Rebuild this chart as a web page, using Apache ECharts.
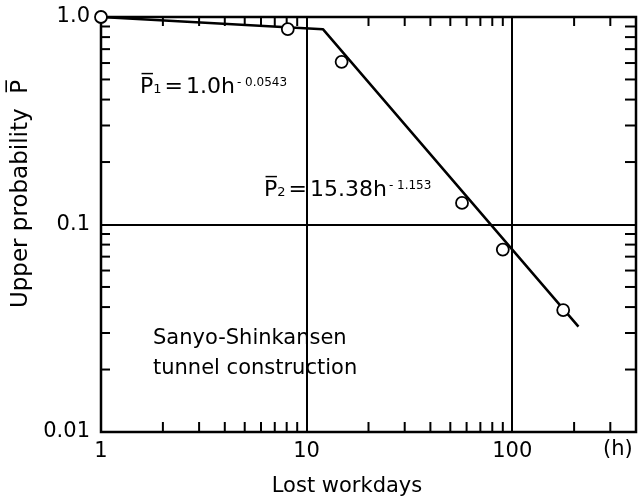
<!DOCTYPE html>
<html>
<head>
<meta charset="utf-8">
<script src="https://cdn.jsdelivr.net/npm/echarts@6/dist/echarts.min.js"></script>
<style>html,body{margin:0;padding:0;background:#fff;}#c{width:639px;height:500px;}</style>
</head>
<body>
<div id="c"></div>
<script>
// ---- data ----
const observedH = [1, 8.1, 14.8, 57, 90, 177];
const observedP = [1.0, 0.875, 0.608, 0.127, 0.0757, 0.0387];
const fitH = [1, 12.0, 210];
const fitP = [1.0, 0.874, 0.0322];
const xTickValues = [1, 10, 100];
const xTickLabels = ['1', '10', '100'];
const yTickValues = [0.01, 0.1, 1];
const yTickLabels = ['0.01', '0.1', '1.0'];
const xMinorTicks = [2, 3, 4, 5, 6, 7, 8, 9, 20, 30, 40, 50, 60, 70, 80, 90, 200, 300];
const yMinorTicks = [0.02, 0.03, 0.04, 0.05, 0.06, 0.07, 0.08, 0.09, 0.2, 0.3, 0.4, 0.5, 0.6, 0.7, 0.8, 0.9];
const xRange = [1, 400];
const yRange = [0.01, 1];

const FONT = 'DejaVu Sans';
const INK = '#000';

function labelFor(values, labels) {
  return function (v) {
    for (let i = 0; i < values.length; i++) {
      if (Math.abs(Math.log10(v) - Math.log10(values[i])) < 1e-6) return labels[i];
    }
    return '';
  };
}

function xTickItem(params, api) {
  const cs = params.coordSys;
  const x = api.coord([api.value(0), api.value(1)])[0];
  const st = { stroke: '#000', lineWidth: 2 };
  return { type: 'group', children: [
    { type: 'line', shape: { x1: x, y1: cs.y + cs.height, x2: x, y2: cs.y + cs.height - 10 }, style: st },
    { type: 'line', shape: { x1: x, y1: cs.y, x2: x, y2: cs.y + 9 }, style: st }
  ]};
}
function yTickItem(params, api) {
  const cs = params.coordSys;
  const y = api.coord([api.value(0), api.value(1)])[1];
  const st = { stroke: '#000', lineWidth: 2 };
  return { type: 'group', children: [
    { type: 'line', shape: { x1: cs.x, y1: y, x2: cs.x + 9, y2: y }, style: st },
    { type: 'line', shape: { x1: cs.x + cs.width, y1: y, x2: cs.x + cs.width - 11, y2: y }, style: st }
  ]};
}

const chart = echarts.init(document.getElementById('c'), null, { renderer: 'canvas' });
const richAnn = {
  p: { fontSize: 22, lineHeight: 24, fontFamily: FONT, color: INK },
  sub: { fontSize: 13, lineHeight: 13, fontFamily: FONT, color: INK, verticalAlign: 'bottom', padding: [0, 0, 3, 0] },
  eq: { fontSize: 22, lineHeight: 24, fontFamily: FONT, color: INK, padding: [0, 3, 0, 3] },
  m: { fontSize: 22, lineHeight: 24, fontFamily: FONT, color: INK },
  sup: { fontSize: 12, lineHeight: 12, fontFamily: FONT, color: INK, verticalAlign: 'top', padding: [2, 0, 0, 2] }
};

chart.setOption({
  animation: false,
  backgroundColor: '#fff',
  grid: { left: 101, right: 3, top: 17, bottom: 68, show: true, borderColor: '#000', borderWidth: 2.5, backgroundColor: 'transparent' },
  xAxis: {
    type: 'log', logBase: 10, min: xRange[0], max: xRange[1],
    axisLine: { show: false }, axisTick: { show: false },
    splitLine: { show: true, lineStyle: { color: '#000', width: 2 } },
    axisLabel: { formatter: labelFor(xTickValues, xTickLabels), fontFamily: FONT, fontSize: 21, color: INK, margin: 9, showMaxLabel: false }
  },
  yAxis: {
    type: 'log', logBase: 10, min: yRange[0], max: yRange[1],
    axisLine: { show: false }, axisTick: { show: false },
    splitLine: { show: true, lineStyle: { color: '#000', width: 2 } },
    axisLabel: { formatter: labelFor(yTickValues, yTickLabels), fontFamily: FONT, fontSize: 21, color: INK, margin: 11 }
  },
  series: [
    { type: 'custom', renderItem: xTickItem, data: xMinorTicks.map(v => [v, 0.1]), z: 2, silent: true },
    { type: 'custom', renderItem: yTickItem, data: yMinorTicks.map(v => [10, v]), z: 2, silent: true },
    { type: 'line', data: fitH.map((h, i) => [h, fitP[i]]), showSymbol: false, symbol: 'none',
      lineStyle: { color: '#000', width: 2.5 }, z: 3, silent: true },
    { type: 'scatter', data: observedH.map((h, i) => [h, observedP[i]]), symbol: 'circle', symbolSize: 12, clip: false,
      itemStyle: { color: '#fff', borderColor: '#000', borderWidth: 1.8, opacity: 1 }, z: 4, silent: true }
  ],
  graphic: [
    { type: 'text', x: 21, y: 194, rotation: Math.PI / 2, z: 10,
      style: { text: 'Upper probability  P\u0305', fontFamily: FONT, fontSize: 23, fill: INK, align: 'center', verticalAlign: 'middle' } },
    { type: 'text', x: 347, y: 487, z: 10,
      style: { text: 'Lost workdays', fontFamily: FONT, fontSize: 21, fill: INK, align: 'center', verticalAlign: 'middle' } },
    { type: 'text', x: 603, y: 450, z: 10,
      style: { text: '(h)', fontFamily: FONT, fontSize: 21, fill: INK, align: 'left', verticalAlign: 'middle' } },
    { type: 'text', x: 153, y: 354, z: 10,
      style: { text: 'Sanyo-Shinkansen\ntunnel construction', fontFamily: FONT, fontSize: 21, lineHeight: 30, fill: INK, align: 'left', verticalAlign: 'middle' } },
    { type: 'text', x: 140, y: 87, z: 10,
      style: { text: '{p|P\u0305}{sub|1}{eq|=}{m|1.0h}{sup|- 0.0543}', rich: richAnn, align: 'left', verticalAlign: 'middle' } },
    { type: 'text', x: 264, y: 190, z: 10,
      style: { text: '{p|P\u0305}{sub|2}{eq|=}{m|15.38h}{sup|- 1.153}', rich: richAnn, align: 'left', verticalAlign: 'middle' } }
  ]
});
</script>
</body>
</html>
